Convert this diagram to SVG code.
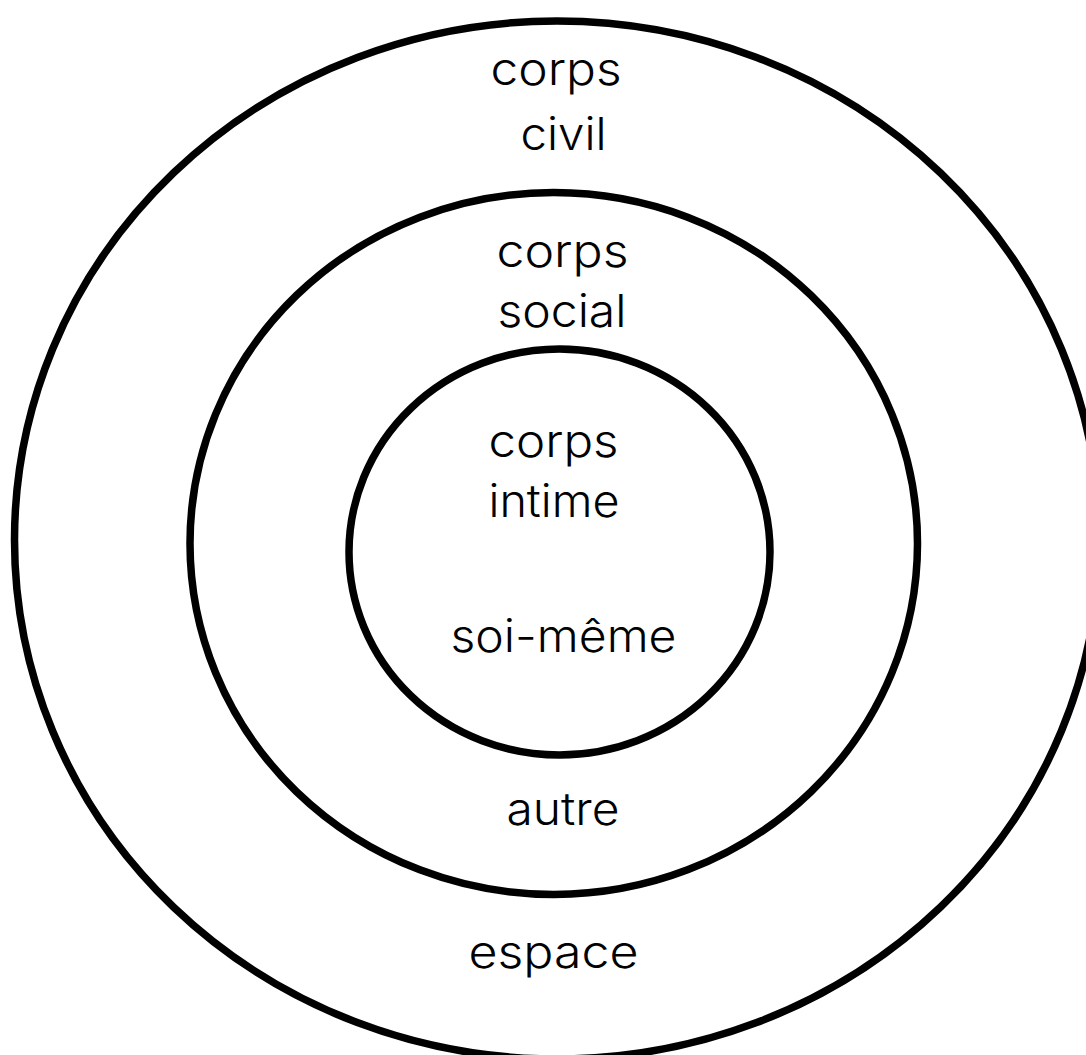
<svg xmlns="http://www.w3.org/2000/svg" width="1086" height="1055" viewBox="0 0 1086 1055">
<style>
.ring{fill:none;stroke:#000;stroke-width:7.5}
.lbl{font-family:Inter,"Liberation Sans",sans-serif;font-weight:300;font-size:45px;fill:#000;text-anchor:middle}
</style>
<rect width="1086" height="1055" fill="#fff"/>
<g id="outer">
<ellipse class="ring" cx="557" cy="540" rx="542.5" ry="519"/>
<text class="lbl" x="556" y="85" textLength="131" lengthAdjust="spacingAndGlyphs">corps</text>
<text class="lbl" x="563.5" y="150" textLength="86" lengthAdjust="spacingAndGlyphs">civil</text>
<text class="lbl" x="553.5" y="968" textLength="170" lengthAdjust="spacingAndGlyphs">espace</text>
</g>
<g id="middle">
<ellipse class="ring" cx="553.75" cy="543.5" rx="363.75" ry="351"/>
<text class="lbl" x="562.5" y="267" textLength="132" lengthAdjust="spacingAndGlyphs">corps</text>
<text class="lbl" x="562" y="327" textLength="129" lengthAdjust="spacingAndGlyphs">social</text>
<text class="lbl" x="563" y="825" textLength="113" lengthAdjust="spacingAndGlyphs">autre</text>
</g>
<g id="inner">
<ellipse class="ring" cx="559.5" cy="552" rx="210.5" ry="203"/>
<text class="lbl" x="553.5" y="457" textLength="130" lengthAdjust="spacingAndGlyphs">corps</text>
<text class="lbl" x="554" y="517" textLength="131" lengthAdjust="spacingAndGlyphs">intime</text>
<text class="lbl" x="563.5" y="652" textLength="226" lengthAdjust="spacingAndGlyphs">soi-même</text>
</g>
<g id="connectors"/>
</svg>
